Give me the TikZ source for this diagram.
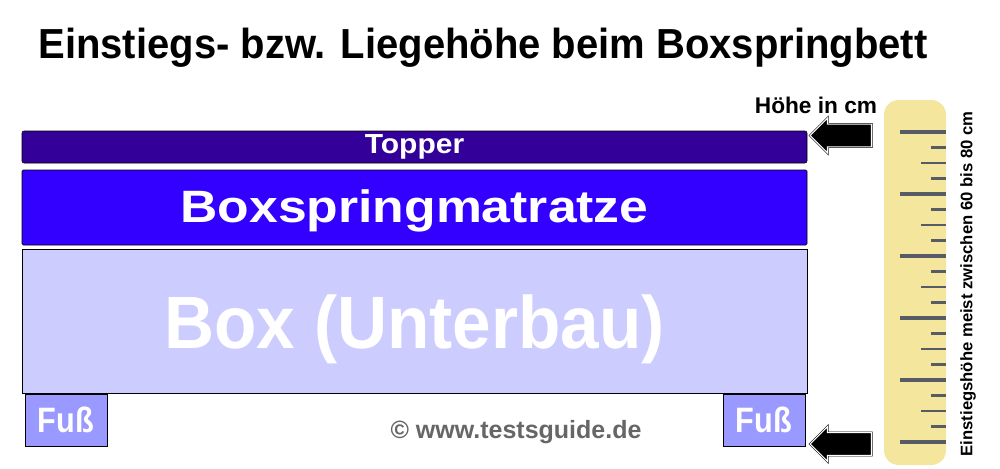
\documentclass[tikz,border=0pt]{standalone}
\usepackage{fontspec}
\setmainfont{Liberation Sans}
\usetikzlibrary{shapes.arrows}

\definecolor{topperc}{HTML}{330099}
\definecolor{matrc}{HTML}{3300FF}
\definecolor{boxc}{HTML}{CCCCFF}
\definecolor{fussc}{HTML}{9999FF}
\definecolor{rulerc}{HTML}{F4E69C}
\definecolor{tickc}{HTML}{565B66}
\definecolor{copyc}{HTML}{666666}

\begin{document}
\begin{tikzpicture}[x=0.75pt, y=-0.75pt,
    layer/.style={rectangle, draw=black, thin, inner sep=0pt, text=white, font=\bfseries},
    fuss/.style={layer, fill=fussc, minimum width=61.5pt, minimum height=39pt, text height=18pt, text depth=0pt,
        font=\fontsize{23}{24}\selectfont\bfseries},
    pointer/.style={single arrow, shape border rotate=180, fill=black, draw=black, double=white, double distance=0.8pt,
        minimum width=26pt, minimum height=46pt, inner sep=7.5pt, single arrow head extend=4pt}]
    \useasboundingbox (0,0) rectangle (1000,468);
    %% Titel
    \node[anchor=base, font=\fontsize{30}{32}\selectfont\bfseries] (title) at (483,58)
        {\scalebox{1}[1.05]{Einstiegs- bzw. Liegehöhe beim Boxspringbett}};
    %% Bett
    \node[layer, fill=topperc, rounded corners=1.5pt, minimum width=588.75pt, minimum height=24pt,
        text height=15pt, text depth=5.25pt, font=\fontsize{22.5}{24}\selectfont\bfseries] (topper) at (414.5,147)
        {\scalebox{1}[0.92]{Topper}};
    \node[layer, fill=matrc, rounded corners=1pt, minimum width=588.75pt, minimum height=56.25pt,
        text height=24pt, text depth=2.25pt, font=\fontsize{34}{36}\selectfont\bfseries] (matratze) at (414.5,207.5)
        {\scalebox{1.14}[1]{Boxspringmatratze}};
    \node[layer, fill=boxc, minimum width=588.75pt, minimum height=108pt,
        text height=40.5pt, text depth=0pt, font=\fontsize{52}{56}\selectfont\bfseries] (box) at (414.5,321)
        {\scalebox{1}[1.07]{Box (Unterbau)}};
    \node[fuss] (fuss1) at (66,420) {\scalebox{1}[1.15]{Fuß}};
    \node[fuss] (fuss2) at (764,420) {\scalebox{1}[1.15]{Fuß}};
    \node[text=copyc, font=\fontsize{18.75}{20}\selectfont\bfseries] (copy) at (516,432) {© www.testsguide.de};
    %% Messlatte
    \node[rectangle, fill=rulerc, rounded corners=11pt, minimum width=46.5pt, minimum height=273.75pt] (ruler) at (915,282.5) {};
    \foreach \k in {0,...,5} {
        \draw[tickc, line width=3.6pt] (900,132+62*\k) -- (946,132+62*\k);
        \ifnum\k<5
            \draw[tickc, line width=2pt] (931,147.5+62*\k) -- (946,147.5+62*\k);
            \draw[tickc, line width=2pt] (921,163+62*\k) -- (946,163+62*\k);
            \draw[tickc, line width=2pt] (931,178.5+62*\k) -- (946,178.5+62*\k);
        \fi
    }
    \node[font=\fontsize{17}{18}\selectfont\bfseries] (hoehe) at (816,105) {Höhe in cm};
    \node[rotate=90, font=\fontsize{12.5}{14}\selectfont\bfseries] (einstieg) at (968,284) {Einstiegshöhe meist zwischen 60 bis 80 cm};
    %% Pfeile
    \node[pointer] (arrtop) at (846.5,135.5) {};
    \node[pointer] (arrbot) at (846.5,444) {};
\end{tikzpicture}
\end{document}
